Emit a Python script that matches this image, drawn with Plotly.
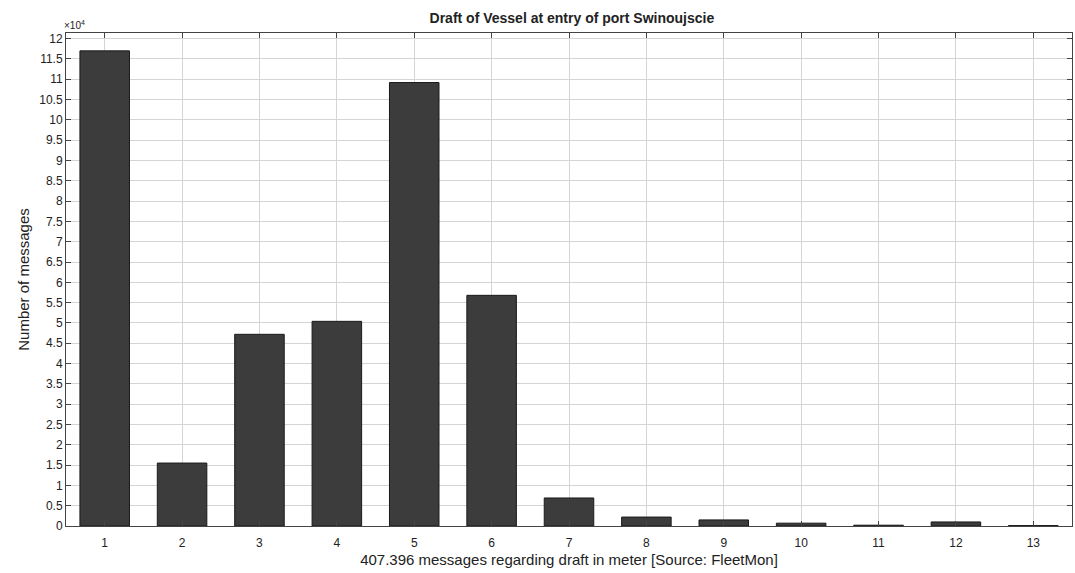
import plotly.graph_objects as go

draft_m = [1, 2, 3, 4, 5, 6, 7, 8, 9, 10, 11, 12, 13]
messages_e4 = [11.70, 1.55, 4.72, 5.04, 10.92, 5.68, 0.69, 0.22, 0.15, 0.07, 0.02, 0.10, 0.01]
y_ticks = [i * 0.5 for i in range(25)]
y_tick_labels = [("%g" % v) for v in y_ticks]

font = "Liberation Sans, Arial, sans-serif"

fig = go.Figure()
fig.add_trace(go.Bar(
    x=draft_m, y=messages_e4, width=0.64,
    marker=dict(color="#3c3c3c", line=dict(color="#1a1a1a", width=1)),
))

fig.update_layout(
    width=1075, height=573,
    margin=dict(l=66, r=3, t=33, b=47),
    paper_bgcolor="white", plot_bgcolor="white",
    showlegend=False,
    title=dict(text="<b>Draft of Vessel at entry of port Swinoujscie</b>",
               x=0.532, xanchor="center", y=0.968, yanchor="middle",
               font=dict(family=font, size=14, color="#222")),
    font=dict(family=font, size=12, color="#222"),
)
fig.update_xaxes(
    range=[0.5, 13.5], tickmode="array", tickvals=draft_m,
    ticktext=[str(v) for v in draft_m],
    showgrid=True, gridcolor="#d4d4d4", gridwidth=1,
    showline=True, linecolor="#444", linewidth=1, mirror="ticks",
    ticks="inside", ticklen=5, tickcolor="#444", ticklabelstandoff=6,
    title=dict(text="407.396 messages regarding draft in meter [Source: FleetMon]",
               font=dict(family=font, size=15, color="#222"), standoff=5),
    zeroline=False, automargin=False,
)
fig.update_yaxes(
    range=[0, 12.14], tickmode="array", tickvals=y_ticks, ticktext=y_tick_labels,
    showgrid=True, gridcolor="#d4d4d4", gridwidth=1,
    showline=True, linecolor="#444", linewidth=1, mirror="ticks",
    ticks="inside", ticklen=5, tickcolor="#444",
    title=dict(text="Number of messages", font=dict(family=font, size=15, color="#222"), standoff=5),
    zeroline=False, automargin=False,
)
fig.add_annotation(
    text="×10<sup>4</sup>", xref="paper", yref="paper", x=0, y=1.0,
    xanchor="left", yanchor="bottom", showarrow=False,
    font=dict(family=font, size=10, color="#222"), yshift=0, xshift=-4,
)
fig.write_html("out.html", config={"displayModeBar": False},
               post_script="document.body.style.margin='0px';")
